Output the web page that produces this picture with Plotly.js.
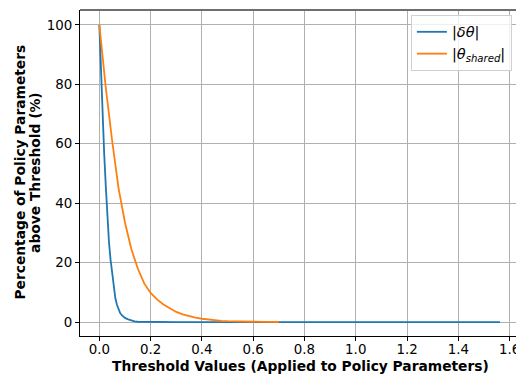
<!DOCTYPE html>
<html>
<head>
<meta charset="utf-8">
<script src="https://cdn.plot.ly/plotly-3.0.1.min.js"></script>
<style>
html,body{margin:0;padding:0;overflow:hidden;background:#fff;}
#chart{width:520px;height:376px;}
</style>
</head>
<body>
<div id="chart"></div>
<script>
// Threshold values and percentages
const deltaX = [0, 0.00625, 0.0125, 0.01875, 0.025, 0.03125, 0.0375, 0.04375, 0.05, 0.05625, 0.0625,
  0.06875, 0.075, 0.08125, 0.0875, 0.09375, 0.1, 0.1125, 0.125, 0.1375, 0.15, 0.2, 0.3, 0.5, 0.8, 1.2, 1.5625];
const deltaY = [100, 84, 70, 57, 46, 36, 27, 21, 16, 11.5, 8,
  5.8, 4.2, 3.0, 2.3, 1.8, 1.4, 0.9, 0.5, 0.25, 0.1, 0.02, 0, 0, 0, 0, 0];

const sharedX = [0, 0.025, 0.05, 0.075, 0.1, 0.125, 0.15, 0.175, 0.2, 0.225, 0.25, 0.275, 0.3,
  0.325, 0.35, 0.375, 0.4, 0.425, 0.45, 0.475, 0.5, 0.55, 0.6, 0.65, 0.7];
const sharedY = [100, 79, 61, 45, 33.5, 24.5, 18, 13, 9.8, 7.6, 5.9, 4.6, 3.4,
  2.6, 2.0, 1.5, 1.1, 0.8, 0.55, 0.4, 0.28, 0.14, 0.07, 0.03, 0.01];

const seriesNames = ['|<i>δθ</i>|', '|<i>θ</i><sub><i>shared</i></sub>|'];
const xTicks = [0, 0.2, 0.4, 0.6, 0.8, 1.0, 1.2, 1.4, 1.6];
const yTicks = [0, 20, 40, 60, 80, 100];
const xTitle = 'Threshold Values (Applied to Policy Parameters)';
const yTitleLines = ['Percentage of Policy Parameters', 'above Threshold (%)'];

const font = 'DejaVu Sans, sans-serif';

const traces = [
  {x: deltaX, y: deltaY, name: seriesNames[0], mode: 'lines', line: {color: '#1f77b4', width: 1.8}},
  {x: sharedX, y: sharedY, name: seriesNames[1], mode: 'lines', line: {color: '#ff7f0e', width: 1.8}}
];

const titleFont = {family: font, size: 13.8, color: '#000'};

const layout = {
  width: 520, height: 376,
  margin: {l: 80, r: 0, t: 10, b: 40},
  paper_bgcolor: '#fff', plot_bgcolor: '#fff',
  font: {family: font, size: 13.4, color: '#000'},
  showlegend: true,
  legend: {
    x: 0.752, y: 0.985, xanchor: 'left', yanchor: 'top',
    bgcolor: 'rgba(255,255,255,0.8)', bordercolor: '#d0d0d0', borderwidth: 1,
    font: {family: font, size: 14.5}, tracegroupgap: 0
  },
  xaxis: {
    range: [-0.0754, 1.6406],
    tickvals: xTicks, tickformat: '.1f',
    showgrid: true, gridcolor: '#b0b0b0', gridwidth: 1,
    zeroline: false, showline: true, linecolor: '#000', linewidth: 1,
    ticks: 'outside', ticklen: 4, tickcolor: '#000',
    ticklabeloverflow: 'allow', ticklabelstandoff: -3,
    tickfont: {family: font, size: 13.4}
  },
  yaxis: {
    range: [-4.7, 105],
    tickvals: yTicks,
    showgrid: true, gridcolor: '#b0b0b0', gridwidth: 1,
    zeroline: false, showline: true, linecolor: '#000', linewidth: 1,
    ticks: 'outside', ticklen: 4, tickcolor: '#000',
    tickfont: {family: font, size: 13.4}
  },
  annotations: [
    {xref: 'paper', yref: 'paper', x: 0.5, y: -0.093, xanchor: 'center', yanchor: 'middle',
     text: '<b>' + xTitle + '</b>', showarrow: false, font: titleFont},
    {xref: 'paper', yref: 'paper', x: -0.136, y: 0.502, xanchor: 'center', yanchor: 'middle', textangle: -90,
     text: '<b>' + yTitleLines[0] + '</b>', showarrow: false, font: titleFont},
    {xref: 'paper', yref: 'paper', x: -0.101, y: 0.502, xanchor: 'center', yanchor: 'middle', textangle: -90,
     text: '<b>' + yTitleLines[1] + '</b>', showarrow: false, font: titleFont}
  ],
  shapes: [
    {type: 'line', xref: 'paper', yref: 'paper', x0: 0, x1: 1, y0: 1, y1: 1, line: {color: '#6e6e6e', width: 2}}
  ]
};

Plotly.newPlot('chart', traces, layout, {displayModeBar: false, staticPlot: true});
</script>
</body>
</html>
